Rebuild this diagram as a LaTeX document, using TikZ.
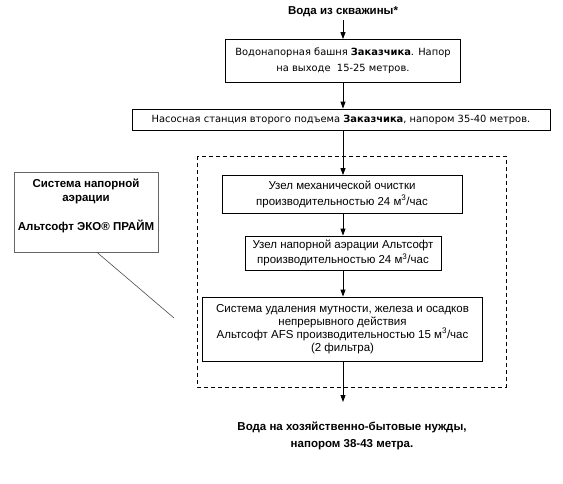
\documentclass[tikz,border=0pt]{standalone}
\usepackage{fontspec}
\setmainfont{Liberation Sans}
\newfontfamily\tahoma{DejaVu Sans}
\usetikzlibrary{arrows.meta}
\begin{document}
\begin{tikzpicture}[x=1pt,y=-1pt,
  box/.style={draw=black,line width=0.8pt,inner sep=0pt,align=center,anchor=center},
  boldtxt/.style={align=center,inner sep=0pt},
  flow/.style={line width=0.8pt,-{Triangle[length=7pt,width=5pt]}},
  grp/.style={draw=black,line width=0.8pt,dash pattern=on 4pt off 3pt}]
\useasboundingbox (0,0) rectangle (563,483);
\node[boldtxt,font=\bfseries\fontsize{11.5}{16}\selectfont] (src) at (343,12) {Вода из скважины*};
\node[box,font=\tahoma\fontsize{9.9}{16}\selectfont,minimum width=235pt,minimum height=43pt] (b1) at (343,61)
  {Водонапорная башня \textbf{Заказчика}. Напор\\на выходе\ \ 15-25 метров.};
\node[box,font=\tahoma\fontsize{9.9}{16}\selectfont,minimum width=418pt,minimum height=21pt] (b2) at (341,119.5)
  {Насосная станция второго подъема \textbf{Заказчика}, напором 35-40 метров.};
\draw[grp] (197,156) rectangle (506,387);
\node[box,font=\fontsize{11.5}{15.5}\selectfont,minimum width=240pt,minimum height=38pt] (b3) at (342,194.5)
  {Узел механической очистки\\производительностью 24 м\textsuperscript{3}/час};
\node[box,font=\fontsize{11.5}{15}\selectfont,minimum width=196pt,minimum height=34pt] (b4) at (343,253)
  {Узел напорной аэрации Альтсофт\\производительностью 24 м\textsuperscript{3}/час};
\node[box,font=\fontsize{11.5}{13}\selectfont,minimum width=280pt,minimum height=64pt] (b5) at (342.5,329)
  {Система удаления мутности, железа и осадков\\непрерывного действия\\Альтсофт AFS производительностью 15 м\textsuperscript{3}/час\\(2 фильтра)};
\coordinate (out) at (343,402);
\node[boldtxt,font=\bfseries\fontsize{11.5}{17}\selectfont] (dst) at (352,436)
  {Вода на хозяйственно-бытовые нужды,\\напором 38-43 метра.};
\node[draw=black!60,line width=0.7pt,minimum width=144pt,minimum height=80pt,inner sep=0pt] (lbox) at (86,212) {};
\node[boldtxt,font=\bfseries\fontsize{11.5}{13.5}\selectfont,anchor=north] (ltxt) at (86,179)
  {Система напорной\\аэрации\\[16pt]Альтсофт ЭКО® ПРАЙМ};
\coordinate (lend) at (174,318);
\coordinate (lst) at ([xshift=11pt]lbox.south);
\draw[black!70,line width=0.6pt] (lst) -- (lend);
\coordinate (srcbot) at (343,20);
\draw[flow] (srcbot) -- (srcbot |- b1.north);
\draw[flow] (b1.south) -- (b1.south |- b2.north);
\draw[flow] (b1.south |- b2.south) -- (b1.south |- b3.north);
\draw[flow] (b1.south |- b3.south) -- (b1.south |- b4.north);
\draw[flow] (b4.south) -- (b4.south |- b5.north);
\draw[flow] (b4.south |- b5.south) -- (out);
\end{tikzpicture}
\end{document}
